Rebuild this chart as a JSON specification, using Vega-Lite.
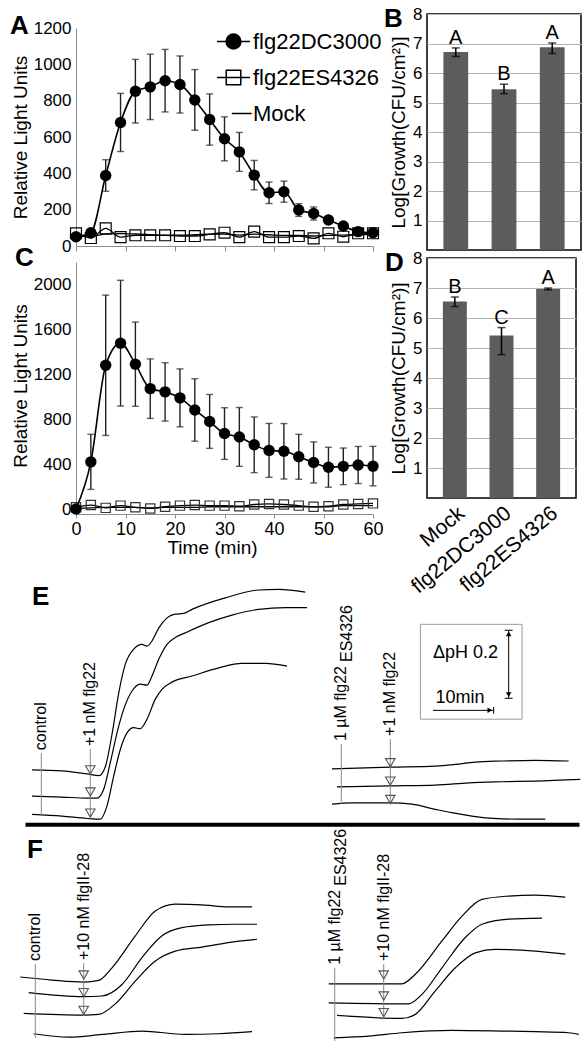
{
"$schema": "https://vega.github.io/schema/vega-lite/v6.json",
"background": "white",
"padding": {"left": 10, "top": 4, "right": 5, "bottom": 5},
"config": {
 "font": "Liberation Sans",
 "view": {"stroke": null},
 "axis": {"labelFont": "Liberation Sans", "titleFont": "Liberation Sans", "labelColor": "black", "titleColor": "black", "labelFontSize": 17, "titleFontSize": 19, "titleFontWeight": "normal", "domainColor": "#8c8c8c", "tickColor": "#8c8c8c", "labelFlush": false, "grid": false, "labelOverlap": false},
 "title": {"anchor": "start", "frame": "group", "orient": "top", "align": "left", "baseline": "alphabetic", "offset": 0, "fontSize": 26, "fontWeight": "bold", "color": "black", "font": "Liberation Sans"},
 "text": {"font": "Liberation Sans", "color": "black"}
},
"datasets": {
 "lumA": [
  {"series":"flg22DC3000","t":0,"value":51,"err":8},{"series":"flg22DC3000","t":3,"value":73,"err":10},{"series":"flg22DC3000","t":6,"value":388,"err":87},{"series":"flg22DC3000","t":9,"value":680,"err":160},{"series":"flg22DC3000","t":12,"value":852,"err":175},{"series":"flg22DC3000","t":15,"value":876,"err":180},{"series":"flg22DC3000","t":18,"value":910,"err":172},{"series":"flg22DC3000","t":21,"value":889,"err":157},{"series":"flg22DC3000","t":24,"value":804,"err":167},{"series":"flg22DC3000","t":27,"value":696,"err":141},{"series":"flg22DC3000","t":30,"value":590,"err":121},{"series":"flg22DC3000","t":33,"value":518,"err":107},{"series":"flg22DC3000","t":36,"value":390,"err":81},{"series":"flg22DC3000","t":39,"value":293,"err":59},{"series":"flg22DC3000","t":42,"value":299,"err":58},{"series":"flg22DC3000","t":45,"value":198,"err":35},{"series":"flg22DC3000","t":48,"value":179,"err":36},{"series":"flg22DC3000","t":51,"value":143,"err":15},{"series":"flg22DC3000","t":54,"value":110,"err":10},{"series":"flg22DC3000","t":57,"value":79,"err":8},{"series":"flg22DC3000","t":60,"value":73,"err":8},
  {"series":"flg22ES4326","t":0,"value":70},{"series":"flg22ES4326","t":3,"value":44},{"series":"flg22ES4326","t":6,"value":97},{"series":"flg22ES4326","t":9,"value":49},{"series":"flg22ES4326","t":12,"value":59},{"series":"flg22ES4326","t":15,"value":59},{"series":"flg22ES4326","t":18,"value":59},{"series":"flg22ES4326","t":21,"value":55},{"series":"flg22ES4326","t":24,"value":55},{"series":"flg22ES4326","t":27,"value":64},{"series":"flg22ES4326","t":30,"value":73},{"series":"flg22ES4326","t":33,"value":49},{"series":"flg22ES4326","t":36,"value":79},{"series":"flg22ES4326","t":39,"value":49},{"series":"flg22ES4326","t":42,"value":49},{"series":"flg22ES4326","t":45,"value":55},{"series":"flg22ES4326","t":48,"value":42},{"series":"flg22ES4326","t":51,"value":70},{"series":"flg22ES4326","t":54,"value":51},{"series":"flg22ES4326","t":57,"value":70},{"series":"flg22ES4326","t":60,"value":70},
  {"series":"Mock","t":0,"value":55},{"series":"Mock","t":3,"value":55},{"series":"Mock","t":6,"value":65},{"series":"Mock","t":9,"value":68},{"series":"Mock","t":12,"value":66},{"series":"Mock","t":15,"value":63},{"series":"Mock","t":18,"value":60},{"series":"Mock","t":21,"value":60},{"series":"Mock","t":24,"value":62},{"series":"Mock","t":27,"value":65},{"series":"Mock","t":30,"value":65},{"series":"Mock","t":33,"value":60},{"series":"Mock","t":36,"value":65},{"series":"Mock","t":39,"value":62},{"series":"Mock","t":42,"value":58},{"series":"Mock","t":45,"value":58},{"series":"Mock","t":48,"value":55},{"series":"Mock","t":51,"value":58},{"series":"Mock","t":54,"value":60},{"series":"Mock","t":57,"value":62},{"series":"Mock","t":60,"value":65}
 ],
 "lumC": [
  {"series":"flg22DC3000","t":0,"value":0,"err":0},{"series":"flg22DC3000","t":3,"value":420,"err":245},{"series":"flg22DC3000","t":6,"value":1280,"err":625},{"series":"flg22DC3000","t":9,"value":1477,"err":560},{"series":"flg22DC3000","t":12,"value":1290,"err":375},{"series":"flg22DC3000","t":15,"value":1072,"err":265},{"series":"flg22DC3000","t":18,"value":1043,"err":260},{"series":"flg22DC3000","t":21,"value":990,"err":258},{"series":"flg22DC3000","t":24,"value":882,"err":278},{"series":"flg22DC3000","t":27,"value":780,"err":240},{"series":"flg22DC3000","t":30,"value":672,"err":230},{"series":"flg22DC3000","t":33,"value":642,"err":262},{"series":"flg22DC3000","t":36,"value":572,"err":248},{"series":"flg22DC3000","t":39,"value":522,"err":240},{"series":"flg22DC3000","t":42,"value":514,"err":247},{"series":"flg22DC3000","t":45,"value":465,"err":200},{"series":"flg22DC3000","t":48,"value":415,"err":183},{"series":"flg22DC3000","t":51,"value":372,"err":178},{"series":"flg22DC3000","t":54,"value":380,"err":163},{"series":"flg22DC3000","t":57,"value":392,"err":165},{"series":"flg22DC3000","t":60,"value":382,"err":176},
  {"series":"flg22ES4326","t":0,"value":15},{"series":"flg22ES4326","t":3,"value":35},{"series":"flg22ES4326","t":6,"value":10},{"series":"flg22ES4326","t":9,"value":30},{"series":"flg22ES4326","t":12,"value":15},{"series":"flg22ES4326","t":15,"value":5},{"series":"flg22ES4326","t":18,"value":20},{"series":"flg22ES4326","t":21,"value":30},{"series":"flg22ES4326","t":24,"value":35},{"series":"flg22ES4326","t":27,"value":30},{"series":"flg22ES4326","t":30,"value":30},{"series":"flg22ES4326","t":33,"value":25},{"series":"flg22ES4326","t":36,"value":40},{"series":"flg22ES4326","t":39,"value":45},{"series":"flg22ES4326","t":42,"value":40},{"series":"flg22ES4326","t":45,"value":30},{"series":"flg22ES4326","t":48,"value":20},{"series":"flg22ES4326","t":51,"value":25},{"series":"flg22ES4326","t":54,"value":40},{"series":"flg22ES4326","t":57,"value":45},{"series":"flg22ES4326","t":60,"value":50},
  {"series":"Mock","t":0,"value":5},{"series":"Mock","t":3,"value":10},{"series":"Mock","t":6,"value":15},{"series":"Mock","t":9,"value":15},{"series":"Mock","t":12,"value":15},{"series":"Mock","t":15,"value":10},{"series":"Mock","t":18,"value":15},{"series":"Mock","t":21,"value":15},{"series":"Mock","t":24,"value":15},{"series":"Mock","t":27,"value":20},{"series":"Mock","t":30,"value":20},{"series":"Mock","t":33,"value":20},{"series":"Mock","t":36,"value":20},{"series":"Mock","t":39,"value":20},{"series":"Mock","t":42,"value":20},{"series":"Mock","t":45,"value":20},{"series":"Mock","t":48,"value":20},{"series":"Mock","t":51,"value":20},{"series":"Mock","t":54,"value":30},{"series":"Mock","t":57,"value":30},{"series":"Mock","t":60,"value":30}
 ],
 "growthB": [
  {"cond":"Mock","mean":6.71,"lo":6.56,"hi":6.85,"letter":"A"},
  {"cond":"flg22DC3000","mean":5.45,"lo":5.30,"hi":5.62,"letter":"B"},
  {"cond":"flg22ES4326","mean":6.87,"lo":6.66,"hi":7.02,"letter":"A"}
 ],
 "growthD": [
  {"cond":"Mock","mean":6.55,"lo":6.38,"hi":6.70,"letter":"B"},
  {"cond":"flg22DC3000","mean":5.42,"lo":4.78,"hi":5.68,"letter":"C"},
  {"cond":"flg22ES4326","mean":6.97,"lo":6.94,"hi":7.00,"letter":"A"}
 ],
 "ph": [
  {"panel":"E1","trace":"1","t":0.40,"pH":0.171},{"panel":"E1","trace":"1","t":5.34,"pH":0.168},{"panel":"E1","trace":"1","t":9.46,"pH":0.159},{"panel":"E1","trace":"1","t":11.43,"pH":0.154},{"panel":"E1","trace":"1","t":12.47,"pH":0.180},{"panel":"E1","trace":"1","t":13.61,"pH":0.279},{"panel":"E1","trace":"1","t":14.68,"pH":0.397},{"panel":"E1","trace":"1","t":15.77,"pH":0.482},{"panel":"E1","trace":"1","t":17.15,"pH":0.526},{"panel":"E1","trace":"1","t":18.52,"pH":0.540},{"panel":"E1","trace":"1","t":19.34,"pH":0.535},{"panel":"E1","trace":"1","t":20.16,"pH":0.550},{"panel":"E1","trace":"1","t":21.27,"pH":0.588},{"panel":"E1","trace":"1","t":22.64,"pH":0.618},{"panel":"E1","trace":"1","t":24.00,"pH":0.629},{"panel":"E1","trace":"1","t":25.39,"pH":0.631},{"panel":"E1","trace":"1","t":26.75,"pH":0.643},{"panel":"E1","trace":"1","t":32.24,"pH":0.677},{"panel":"E1","trace":"1","t":37.74,"pH":0.700},{"panel":"E1","trace":"1","t":41.04,"pH":0.702},{"panel":"E1","trace":"1","t":45.42,"pH":0.694},
  {"panel":"E1","trace":"2","t":0.40,"pH":0.094},{"panel":"E1","trace":"2","t":5.34,"pH":0.091},{"panel":"E1","trace":"2","t":9.46,"pH":0.088},{"panel":"E1","trace":"2","t":11.10,"pH":0.088},{"panel":"E1","trace":"2","t":12.21,"pH":0.114},{"panel":"E1","trace":"2","t":13.29,"pH":0.192},{"panel":"E1","trace":"2","t":14.40,"pH":0.280},{"panel":"E1","trace":"2","t":15.50,"pH":0.349},{"panel":"E1","trace":"2","t":16.87,"pH":0.403},{"panel":"E1","trace":"2","t":18.24,"pH":0.423},{"panel":"E1","trace":"2","t":19.34,"pH":0.420},{"panel":"E1","trace":"2","t":20.16,"pH":0.447},{"panel":"E1","trace":"2","t":21.27,"pH":0.496},{"panel":"E1","trace":"2","t":22.64,"pH":0.540},{"panel":"E1","trace":"2","t":24.00,"pH":0.560},{"panel":"E1","trace":"2","t":25.65,"pH":0.574},{"panel":"E1","trace":"2","t":29.51,"pH":0.604},{"panel":"E1","trace":"2","t":33.34,"pH":0.626},{"panel":"E1","trace":"2","t":37.74,"pH":0.643},{"panel":"E1","trace":"2","t":42.13,"pH":0.648},{"panel":"E1","trace":"2","t":45.70,"pH":0.648},
  {"panel":"E1","trace":"3","t":0.40,"pH":0.040},{"panel":"E1","trace":"3","t":5.34,"pH":0.035},{"panel":"E1","trace":"3","t":9.46,"pH":0.028},{"panel":"E1","trace":"3","t":11.65,"pH":0.026},{"panel":"E1","trace":"3","t":12.75,"pH":0.065},{"panel":"E1","trace":"3","t":13.86,"pH":0.153},{"panel":"E1","trace":"3","t":14.94,"pH":0.231},{"panel":"E1","trace":"3","t":16.05,"pH":0.280},{"panel":"E1","trace":"3","t":17.15,"pH":0.295},{"panel":"E1","trace":"3","t":18.24,"pH":0.292},{"panel":"E1","trace":"3","t":19.34,"pH":0.320},{"panel":"E1","trace":"3","t":20.71,"pH":0.379},{"panel":"E1","trace":"3","t":21.81,"pH":0.408},{"panel":"E1","trace":"3","t":23.46,"pH":0.429},{"panel":"E1","trace":"3","t":26.75,"pH":0.447},{"panel":"E1","trace":"3","t":31.15,"pH":0.471},{"panel":"E1","trace":"3","t":34.99,"pH":0.484},{"panel":"E1","trace":"3","t":38.83,"pH":0.484},{"panel":"E1","trace":"3","t":42.41,"pH":0.476},
  {"panel":"E2","trace":"1","t":0.40,"pH":0.174},{"panel":"E2","trace":"1","t":10.0,"pH":0.179},{"panel":"E2","trace":"1","t":17.41,"pH":0.182},{"panel":"E2","trace":"1","t":20.71,"pH":0.187},{"panel":"E2","trace":"1","t":24.00,"pH":0.194},{"panel":"E2","trace":"1","t":28.40,"pH":0.197},{"panel":"E2","trace":"1","t":33.89,"pH":0.199},{"panel":"E2","trace":"1","t":39.39,"pH":0.197},
  {"panel":"E2","trace":"2","t":1.22,"pH":0.121},{"panel":"E2","trace":"2","t":10.0,"pH":0.124},{"panel":"E2","trace":"2","t":17.41,"pH":0.126},{"panel":"E2","trace":"2","t":22.92,"pH":0.133},{"panel":"E2","trace":"2","t":28.40,"pH":0.136},{"panel":"E2","trace":"2","t":33.89,"pH":0.138},{"panel":"E2","trace":"2","t":41.30,"pH":0.143},
  {"panel":"E2","trace":"3","t":0.40,"pH":0.070},{"panel":"E2","trace":"3","t":3.69,"pH":0.074},{"panel":"E2","trace":"3","t":10.0,"pH":0.074},{"panel":"E2","trace":"3","t":13.57,"pH":0.070},{"panel":"E2","trace":"3","t":17.41,"pH":0.055},{"panel":"E2","trace":"3","t":20.16,"pH":0.045},{"panel":"E2","trace":"3","t":25.65,"pH":0.030},{"panel":"E2","trace":"3","t":31.15,"pH":0.026},{"panel":"E2","trace":"3","t":35.54,"pH":0.026},
  {"panel":"F1","trace":"1","t":-0.44,"pH":0.203},{"panel":"F1","trace":"1","t":4.78,"pH":0.194},{"panel":"F1","trace":"1","t":10.0,"pH":0.188},{"panel":"F1","trace":"1","t":12.47,"pH":0.193},{"panel":"F1","trace":"1","t":14.66,"pH":0.230},{"panel":"F1","trace":"1","t":18.50,"pH":0.324},{"panel":"F1","trace":"1","t":21.80,"pH":0.397},{"panel":"F1","trace":"1","t":25.09,"pH":0.417},{"panel":"F1","trace":"1","t":29.49,"pH":0.415},{"panel":"F1","trace":"1","t":33.89,"pH":0.409},{"panel":"F1","trace":"1","t":37.73,"pH":0.409},
  {"panel":"F1","trace":"2","t":0.94,"pH":0.157},{"panel":"F1","trace":"2","t":10.0,"pH":0.145},{"panel":"F1","trace":"2","t":13.01,"pH":0.147},{"panel":"F1","trace":"2","t":16.31,"pH":0.181},{"panel":"F1","trace":"2","t":19.60,"pH":0.260},{"panel":"F1","trace":"2","t":22.90,"pH":0.324},{"panel":"F1","trace":"2","t":26.19,"pH":0.348},{"panel":"F1","trace":"2","t":30.59,"pH":0.356},{"panel":"F1","trace":"2","t":34.98,"pH":0.358},{"panel":"F1","trace":"2","t":38.55,"pH":0.358},
  {"panel":"F1","trace":"3","t":0.12,"pH":0.096},{"panel":"F1","trace":"3","t":10.0,"pH":0.091},{"panel":"F1","trace":"3","t":12.47,"pH":0.093},{"panel":"F1","trace":"3","t":15.21,"pH":0.124},{"panel":"F1","trace":"3","t":18.50,"pH":0.191},{"panel":"F1","trace":"3","t":21.80,"pH":0.250},{"panel":"F1","trace":"3","t":25.09,"pH":0.279},{"panel":"F1","trace":"3","t":29.49,"pH":0.291},{"panel":"F1","trace":"3","t":34.98,"pH":0.307},{"panel":"F1","trace":"3","t":38.55,"pH":0.314},
  {"panel":"F1","trace":"4","t":1.76,"pH":0.036},{"panel":"F1","trace":"4","t":7.53,"pH":0.026},{"panel":"F1","trace":"4","t":13.01,"pH":0.034},{"panel":"F1","trace":"4","t":19.60,"pH":0.044},{"panel":"F1","trace":"4","t":26.74,"pH":0.034},{"panel":"F1","trace":"4","t":32.24,"pH":0.036},{"panel":"F1","trace":"4","t":37.73,"pH":0.042},
  {"panel":"F2","trace":"1","t":0.94,"pH":0.183},{"panel":"F2","trace":"1","t":13.01,"pH":0.183},{"panel":"F2","trace":"1","t":15.21,"pH":0.211},{"panel":"F2","trace":"1","t":19.60,"pH":0.309},{"panel":"F2","trace":"1","t":22.90,"pH":0.382},{"panel":"F2","trace":"1","t":26.19,"pH":0.431},{"panel":"F2","trace":"1","t":30.59,"pH":0.441},{"panel":"F2","trace":"1","t":34.98,"pH":0.444},{"panel":"F2","trace":"1","t":39.92,"pH":0.438},
  {"panel":"F2","trace":"2","t":0.94,"pH":0.127},{"panel":"F2","trace":"2","t":14.12,"pH":0.124},{"panel":"F2","trace":"2","t":16.31,"pH":0.152},{"panel":"F2","trace":"2","t":19.60,"pH":0.230},{"panel":"F2","trace":"2","t":23.44,"pH":0.319},{"panel":"F2","trace":"2","t":26.19,"pH":0.358},{"panel":"F2","trace":"2","t":30.59,"pH":0.373},{"panel":"F2","trace":"2","t":36.08,"pH":0.376},
  {"panel":"F2","trace":"3","t":2.31,"pH":0.090},{"panel":"F2","trace":"3","t":13.01,"pH":0.081},{"panel":"F2","trace":"3","t":15.21,"pH":0.093},{"panel":"F2","trace":"3","t":18.50,"pH":0.162},{"panel":"F2","trace":"3","t":21.80,"pH":0.230},{"panel":"F2","trace":"3","t":25.09,"pH":0.274},{"panel":"F2","trace":"3","t":28.39,"pH":0.284},{"panel":"F2","trace":"3","t":34.98,"pH":0.279},{"panel":"F2","trace":"3","t":39.92,"pH":0.270},
  {"panel":"F2","trace":"4","t":1.76,"pH":0.024},{"panel":"F2","trace":"4","t":7.53,"pH":0.029},{"panel":"F2","trace":"4","t":13.01,"pH":0.039},{"panel":"F2","trace":"4","t":21.25,"pH":0.046},{"panel":"F2","trace":"4","t":29.49,"pH":0.044},{"panel":"F2","trace":"4","t":34.98,"pH":0.042},{"panel":"F2","trace":"4","t":40.48,"pH":0.039},{"panel":"F2","trace":"4","t":42.13,"pH":0.034}
 ],
 "markers": [
  {"panel":"E1","t":1.93,"pH":0.22,"pH2":0.038,"label":"control"},
  {"panel":"E1","t":10,"pH":0.232,"pH2":0.026,"label":"+1 nM flg22"},
  {"panel":"E2","t":1.93,"pH":0.247,"pH2":0.071,"label":"1 µM flg22","sub":"ES4326"},
  {"panel":"E2","t":10,"pH":0.262,"pH2":0.071,"label":"+1 nM flg22"},
  {"panel":"F1","t":2.03,"pH":0.241,"pH2":0.0235,"label":"control"},
  {"panel":"F1","t":10,"pH":0.244,"pH2":0.088,"label":"+10 nM flgII-28"},
  {"panel":"F2","t":1.93,"pH":0.23,"pH2":0.0147,"label":"1 µM flg22","sub":"ES4326"},
  {"panel":"F2","t":10,"pH":0.241,"pH2":0.0785,"label":"+10 nM flgII-28"}
 ],
 "tri": [
  {"panel":"E1","t":10,"pH":0.171},{"panel":"E1","t":10,"pH":0.106},{"panel":"E1","t":10,"pH":0.044},
  {"panel":"E2","t":10,"pH":0.192},{"panel":"E2","t":10,"pH":0.138},{"panel":"E2","t":10,"pH":0.084},
  {"panel":"F1","t":10,"pH":0.209},{"panel":"F1","t":10,"pH":0.157},{"panel":"F1","t":10,"pH":0.105},
  {"panel":"F2","t":10,"pH":0.209},{"panel":"F2","t":10,"pH":0.147},{"panel":"F2","t":10,"pH":0.098}
 ]
},
"columns": 2,
"bounds": "flush",
"spacing": {"row": 8, "column": 10},
"concat": [
  {"width": 341, "height": 232,
   "title": {"text": "A", "dx": -66, "dy": 29},
   "data": {"name": "lumA"},
   "encoding": {
    "x": {"field": "t", "type": "quantitative", "scale": {"domain": [0, 60], "range": [0, 297], "nice": false}, "axis": {"values": [0,10,20,30,40,50,60], "labels": false, "tickSize": 5, "title": null}},
    "y": {"field": "value", "type": "quantitative", "scale": {"domain": [0, 1200], "range": [232, 14], "nice": false}, "axis": {"values": [0,200,400,600,800,1000,1200], "tickCount": 10, "format": "d", "ticks": false, "labelPadding": 5, "labelOverlap": false, "title": "Relative Light Units", "titlePadding": 3}}
   },
   "layer": [
    {"transform": [{"filter": "datum.series === 'Mock'"}], "mark": {"type": "line", "color": "black", "strokeWidth": 1.3, "interpolate": "monotone"}},
    {"transform": [{"filter": "datum.series === 'flg22ES4326'"}], "mark": {"type": "line", "color": "black", "strokeWidth": 1.3, "interpolate": "monotone"}},
    {"transform": [{"filter": "datum.series === 'flg22ES4326'"}], "mark": {"type": "point", "shape": "square", "filled": false, "color": "black", "strokeWidth": 1.2, "size": 120, "opacity": 1}},
    {"transform": [{"filter": "datum.series === 'flg22DC3000'"}], "mark": {"type": "errorbar", "ticks": {"size": 7}, "color": "#222222", "thickness": 1.4}, "encoding": {"yError": {"field": "err"}}},
    {"transform": [{"filter": "datum.series === 'flg22DC3000'"}], "mark": {"type": "line", "color": "black", "strokeWidth": 1.6, "interpolate": "monotone"}},
    {"transform": [{"filter": "datum.series === 'flg22DC3000'"}], "mark": {"type": "point", "shape": "circle", "filled": true, "color": "black", "size": 130, "opacity": 1}},
    {"mark": {"type": "point", "filled": false, "opacity": 0},
     "encoding": {
      "shape": {"field": "series", "type": "nominal", "scale": {"domain": ["flg22DC3000", "flg22ES4326", "Mock"], "range": ["M-1,0L-0.45,0M0.45,0L1,0M-0.45,0A0.45,0.45,0,1,0,0.45,0A0.45,0.45,0,1,0,-0.45,0Z", "M-1,0L1,0M-0.44,-0.44L0.44,-0.44L0.44,0.44L-0.44,0.44Z", "M-0.1,0L1.1,0"]},
        "legend": {"title": null, "orient": "none", "legendX": 140, "legendY": 10, "labelFontSize": 22, "labelFont": "Liberation Sans", "labelColor": "black", "symbolSize": 1089, "symbolStrokeWidth": 1.5, "symbolStrokeColor": "black", "symbolOpacity": 1, "rowPadding": 7, "labelOffset": 2, "padding": 0}},
      "fill": {"field": "series", "type": "nominal", "scale": {"domain": ["flg22DC3000", "flg22ES4326", "Mock"], "range": ["black", "white", "black"]},
        "legend": {"title": null, "orient": "none", "legendX": 140, "legendY": 10, "labelFontSize": 22, "labelFont": "Liberation Sans", "labelColor": "black", "symbolSize": 1089, "symbolStrokeWidth": 1.5, "symbolStrokeColor": "black", "symbolOpacity": 1, "rowPadding": 7, "labelOffset": 2, "padding": 0}},
      "stroke": {"field": "series", "type": "nominal", "scale": {"domain": ["flg22DC3000", "flg22ES4326", "Mock"], "range": ["black", "black", "black"]},
        "legend": {"title": null, "orient": "none", "legendX": 140, "legendY": 10, "labelFontSize": 22, "labelFont": "Liberation Sans", "labelColor": "black", "symbolSize": 1089, "symbolStrokeWidth": 1.5, "symbolStrokeColor": "black", "symbolOpacity": 1, "rowPadding": 7, "labelOffset": 2, "padding": 0}}
     }}
   ]
  },
  {"width": 154, "height": 236,
   "view": {"stroke": "black", "strokeWidth": 1.5},
   "title": {"text": "B", "dx": -43, "dy": 31},
   "data": {"name": "growthB"},
   "encoding": {"x": {"field": "cond", "type": "nominal", "sort": null, "scale": {"paddingInner": 0.486, "paddingOuter": 0.34}, "axis": null}},
   "layer": [
    {"mark": {"type": "bar", "color": "#5c5c5c"}, "encoding": {"y": {"field": "mean", "type": "quantitative", "title": "Log[Growth(CFU/cm²)]", "scale": {"domain": [0, 8], "nice": false}, "axis": {"values": [1,2,3,4,5,6,7,8], "tickCount": 10, "grid": true, "gridColor": "#b2b2b2", "domain": false, "ticks": false, "labelPadding": 5, "labelOverlap": false, "titlePadding": 4}}}},
    {"mark": {"type": "errorbar", "ticks": {"size": 8}, "color": "black", "thickness": 1.5}, "encoding": {"y": {"field": "lo", "type": "quantitative", "title": "Log[Growth(CFU/cm²)]"}, "y2": {"field": "hi"}}},
    {"mark": {"type": "text", "baseline": "alphabetic", "dy": -4, "fontSize": 20}, "encoding": {"y": {"field": "hi", "type": "quantitative", "title": "Log[Growth(CFU/cm²)]"}, "text": {"field": "letter"}}}
   ]
  },
  {"width": 340, "height": 256,
   "title": {"text": "C", "dx": -61, "dy": 17},
   "data": {"name": "lumC"},
   "encoding": {
    "x": {"field": "t", "type": "quantitative", "scale": {"domain": [0, 60], "range": [0, 297], "nice": false}, "axis": {"values": [0,10,20,30,40,50,60], "tickCount": 10, "tickSize": 4, "labelPadding": 2, "labelFontSize": 18, "title": "Time (min)", "titlePadding": 0, "titleX": 136}},
    "y": {"field": "value", "type": "quantitative", "scale": {"domain": [0, 2200], "range": [251, 4], "nice": false}, "axis": {"values": [0,400,800,1200,1600,2000], "tickCount": 10, "format": "d", "ticks": false, "labelPadding": 5, "labelOverlap": false, "title": "Relative Light Units", "titlePadding": 3}}
   },
   "layer": [
    {"transform": [{"filter": "datum.series === 'Mock'"}], "mark": {"type": "line", "color": "black", "strokeWidth": 1.3, "interpolate": "monotone"}},
    {"transform": [{"filter": "datum.series === 'flg22ES4326'"}], "mark": {"type": "line", "color": "black", "strokeWidth": 1.3, "interpolate": "monotone"}},
    {"transform": [{"filter": "datum.series === 'flg22ES4326'"}], "mark": {"type": "point", "shape": "square", "filled": false, "color": "#333333", "strokeWidth": 1.2, "size": 85, "opacity": 1}},
    {"transform": [{"filter": "datum.series === 'flg22DC3000'"}], "mark": {"type": "errorbar", "ticks": {"size": 7}, "color": "#222222", "thickness": 1.4}, "encoding": {"yError": {"field": "err"}}},
    {"transform": [{"filter": "datum.series === 'flg22DC3000'"}], "mark": {"type": "line", "color": "black", "strokeWidth": 1.6, "interpolate": "monotone"}},
    {"transform": [{"filter": "datum.series === 'flg22DC3000'"}], "mark": {"type": "point", "shape": "circle", "filled": true, "color": "black", "size": 130, "opacity": 1}}
   ]
  },
  {"width": 149, "height": 240,
   "view": {"stroke": "black", "strokeWidth": 1.5},
   "title": {"text": "D", "dx": -42, "dy": 31},
   "data": {"name": "growthD"},
   "encoding": {"x": {"field": "cond", "type": "nominal", "sort": null, "scale": {"paddingInner": 0.486, "paddingOuter": 0.34}, "axis": {"title": null, "domain": false, "ticks": false, "labelAngle": -40, "labelAlign": "right", "labelBaseline": "top", "labelFontSize": 21, "labelPadding": 4}}},
   "layer": [
    {"mark": {"type": "bar", "color": "#5c5c5c"}, "encoding": {"y": {"field": "mean", "type": "quantitative", "title": "Log[Growth(CFU/cm²)]", "scale": {"domain": [0, 8], "nice": false}, "axis": {"values": [1,2,3,4,5,6,7,8], "tickCount": 10, "grid": true, "gridColor": "#b2b2b2", "domain": false, "ticks": false, "labelPadding": 5, "labelOverlap": false, "titlePadding": 4}}}},
    {"mark": {"type": "errorbar", "ticks": {"size": 8}, "color": "black", "thickness": 1.5}, "encoding": {"y": {"field": "lo", "type": "quantitative", "title": "Log[Growth(CFU/cm²)]"}, "y2": {"field": "hi"}}},
    {"mark": {"type": "text", "baseline": "alphabetic", "dy": -4, "fontSize": 20}, "encoding": {"y": {"field": "hi", "type": "quantitative", "title": "Log[Growth(CFU/cm²)]"}, "text": {"field": "letter"}}}
   ]
  },
  {"width": 236, "height": 306,
   "title": {"text": "E", "dx": -44, "dy": 92},
   "encoding": {
    "x": {"field": "t", "type": "quantitative", "scale": {"domain": [-0.758, 90.51], "range": [-51, 503], "nice": false, "zero": false}, "axis": {"orient": "bottom", "domain": true, "domainColor": "black", "domainWidth": 4, "ticks": false, "labels": false, "grid": false, "title": null, "offset": -3.7}},
    "y": {"field": "pH", "type": "quantitative", "scale": {"domain": [0, 0.9], "nice": false, "zero": false}, "axis": null}
   },
   "layer": [
    {"data": {"name": "ph"}, "transform": [{"filter": "datum.panel === 'E1'"}], "mark": {"type": "line", "color": "black", "strokeWidth": 1.2, "interpolate": "monotone"}, "encoding": {"detail": {"field": "trace"}, "order": {"field": "t"}}},
    {"data": {"name": "markers"}, "transform": [{"filter": "datum.panel === 'E1'"}], "mark": {"type": "rule", "color": "#8a8a8a", "strokeWidth": 1}, "encoding": {"y2": {"field": "pH2"}}},
    {"data": {"name": "markers"}, "transform": [{"filter": "datum.panel === 'E1'"}], "mark": {"type": "text", "angle": 270, "align": "left", "baseline": "middle", "dx": 3, "fontSize": 16}, "encoding": {"text": {"field": "label"}}},
    {"data": {"name": "tri"}, "transform": [{"filter": "datum.panel === 'E1'"}], "mark": {"type": "point", "shape": "triangle-down", "filled": false, "color": "#555555", "strokeWidth": 1.1, "size": 90, "opacity": 1}}
   ]
  },
  {"width": 155, "height": 306,
   "layer": [
    {"encoding": {
      "x": {"field": "t", "type": "quantitative", "scale": {"domain": [16.046, 41.58], "nice": false, "zero": false}, "axis": null},
      "y": {"field": "pH", "type": "quantitative", "scale": {"domain": [0, 0.9], "nice": false, "zero": false}, "axis": null}
     },
     "layer": [
      {"data": {"name": "ph"}, "transform": [{"filter": "datum.panel === 'E2'"}], "mark": {"type": "line", "color": "black", "strokeWidth": 1.2, "interpolate": "monotone"}, "encoding": {"detail": {"field": "trace"}, "order": {"field": "t"}}},
      {"data": {"name": "markers"}, "transform": [{"filter": "datum.panel === 'E2'"}], "mark": {"type": "rule", "color": "#8a8a8a", "strokeWidth": 1}, "encoding": {"y2": {"field": "pH2"}}},
      {"data": {"name": "markers"}, "transform": [{"filter": "datum.panel === 'E2'"}], "mark": {"type": "text", "angle": 270, "align": "left", "baseline": "middle", "dx": 3, "fontSize": 16}, "encoding": {"text": {"field": "label"}}},
      {"data": {"name": "markers"}, "transform": [{"filter": "datum.panel === 'E2' && datum.sub"}], "mark": {"type": "text", "angle": 270, "align": "left", "baseline": "middle", "dx": 82, "dy": 6, "fontSize": 16}, "encoding": {"text": {"field": "sub"}}},
      {"data": {"name": "tri"}, "transform": [{"filter": "datum.panel === 'E2'"}], "mark": {"type": "point", "shape": "triangle-down", "filled": false, "color": "#555555", "strokeWidth": 1.1, "size": 90, "opacity": 1}}
     ]},
    {"data": {"values": [{"k": 1}]},
     "layer": [
      {"mark": {"type": "rect", "fill": "transparent", "stroke": "#9a9a9a", "strokeWidth": 1}, "encoding": {"x": {"datum": 14.96, "type": "quantitative", "scale": {"domain": [16.046, 41.58], "nice": false, "zero": false}, "axis": null}, "x2": {"datum": 31.71}, "y": {"datum": 0.32, "type": "quantitative", "scale": {"domain": [0, 0.9], "nice": false, "zero": false}, "axis": null}, "y2": {"datum": 0.599}}},
      {"mark": {"type": "rule", "color": "black", "strokeWidth": 1}, "encoding": {"x": {"datum": 29.5, "type": "quantitative", "axis": null}, "y": {"datum": 0.3815, "type": "quantitative", "axis": null}, "y2": {"datum": 0.5815}}},
      {"mark": {"type": "rule", "color": "black", "strokeWidth": 1}, "encoding": {"x": {"datum": 28.85, "type": "quantitative", "axis": null}, "x2": {"datum": 30.15}, "y": {"datum": 0.5815, "type": "quantitative", "axis": null}}},
      {"mark": {"type": "rule", "color": "black", "strokeWidth": 1}, "encoding": {"x": {"datum": 28.85, "type": "quantitative", "axis": null}, "x2": {"datum": 30.15}, "y": {"datum": 0.3815, "type": "quantitative", "axis": null}}},
      {"mark": {"type": "point", "shape": "triangle-up", "filled": true, "color": "black", "size": 30, "opacity": 1}, "encoding": {"x": {"datum": 29.5, "type": "quantitative", "axis": null}, "y": {"datum": 0.571, "type": "quantitative", "axis": null}}},
      {"mark": {"type": "point", "shape": "triangle-down", "filled": true, "color": "black", "size": 30, "opacity": 1}, "encoding": {"x": {"datum": 29.5, "type": "quantitative", "axis": null}, "y": {"datum": 0.392, "type": "quantitative", "axis": null}}},
      {"mark": {"type": "rule", "color": "black", "strokeWidth": 1}, "encoding": {"x": {"datum": 17.03, "type": "quantitative", "axis": null}, "x2": {"datum": 27.03}, "y": {"datum": 0.346, "type": "quantitative", "axis": null}}},
      {"mark": {"type": "rule", "color": "black", "strokeWidth": 1}, "encoding": {"x": {"datum": 27.03, "type": "quantitative", "axis": null}, "y": {"datum": 0.336, "type": "quantitative", "axis": null}, "y2": {"datum": 0.356}}},
      {"mark": {"type": "point", "shape": "triangle-right", "filled": true, "color": "black", "size": 30, "opacity": 1}, "encoding": {"x": {"datum": 26.4, "type": "quantitative", "axis": null}, "y": {"datum": 0.346, "type": "quantitative", "axis": null}}},
      {"mark": {"type": "text", "text": "ΔpH 0.2", "fontSize": 18, "align": "center", "baseline": "middle"}, "encoding": {"x": {"datum": 22.4, "type": "quantitative", "axis": null}, "y": {"datum": 0.516, "type": "quantitative", "axis": null}}},
      {"mark": {"type": "text", "text": "10min", "fontSize": 18, "align": "center", "baseline": "middle"}, "encoding": {"x": {"datum": 21.5, "type": "quantitative", "axis": null}, "y": {"datum": 0.383, "type": "quantitative", "axis": null}}}
     ]}
   ]
  },
  {"width": 236, "height": 210,
   "title": {"text": "F", "dx": -49, "dy": 31},
   "encoding": {
    "x": {"field": "t", "type": "quantitative", "scale": {"domain": [8.731, 47.61], "nice": false, "zero": false}, "axis": null},
    "y": {"field": "pH", "type": "quantitative", "scale": {"domain": [0, 0.6176], "nice": false, "zero": false}, "axis": null}
   },
   "layer": [
    {"data": {"name": "ph"}, "transform": [{"filter": "datum.panel === 'F1'"}], "mark": {"type": "line", "color": "black", "strokeWidth": 1.2, "interpolate": "monotone"}, "encoding": {"detail": {"field": "trace"}, "order": {"field": "t"}}},
    {"data": {"name": "markers"}, "transform": [{"filter": "datum.panel === 'F1'"}], "mark": {"type": "rule", "color": "#8a8a8a", "strokeWidth": 1}, "encoding": {"y2": {"field": "pH2"}}},
    {"data": {"name": "markers"}, "transform": [{"filter": "datum.panel === 'F1'"}], "mark": {"type": "text", "angle": 270, "align": "left", "baseline": "middle", "dx": 3, "fontSize": 16}, "encoding": {"text": {"field": "label"}}},
    {"data": {"name": "tri"}, "transform": [{"filter": "datum.panel === 'F1'"}], "mark": {"type": "point", "shape": "triangle-down", "filled": false, "color": "#555555", "strokeWidth": 1.1, "size": 90, "opacity": 1}}
   ]
  },
  {"width": 155, "height": 210,
   "encoding": {
    "x": {"field": "t", "type": "quantitative", "scale": {"domain": [17.133, 42.67], "nice": false, "zero": false}, "axis": null},
    "y": {"field": "pH", "type": "quantitative", "scale": {"domain": [0, 0.6176], "nice": false, "zero": false}, "axis": null}
   },
   "layer": [
    {"data": {"name": "ph"}, "transform": [{"filter": "datum.panel === 'F2'"}], "mark": {"type": "line", "color": "black", "strokeWidth": 1.2, "interpolate": "monotone"}, "encoding": {"detail": {"field": "trace"}, "order": {"field": "t"}}},
    {"data": {"name": "markers"}, "transform": [{"filter": "datum.panel === 'F2'"}], "mark": {"type": "rule", "color": "#8a8a8a", "strokeWidth": 1}, "encoding": {"y2": {"field": "pH2"}}},
    {"data": {"name": "markers"}, "transform": [{"filter": "datum.panel === 'F2'"}], "mark": {"type": "text", "angle": 270, "align": "left", "baseline": "middle", "dx": 3, "fontSize": 16}, "encoding": {"text": {"field": "label"}}},
    {"data": {"name": "markers"}, "transform": [{"filter": "datum.panel === 'F2' && datum.sub"}], "mark": {"type": "text", "angle": 270, "align": "left", "baseline": "middle", "dx": 82, "dy": 6, "fontSize": 16}, "encoding": {"text": {"field": "sub"}}},
    {"data": {"name": "tri"}, "transform": [{"filter": "datum.panel === 'F2'"}], "mark": {"type": "point", "shape": "triangle-down", "filled": false, "color": "#555555", "strokeWidth": 1.1, "size": 90, "opacity": 1}}
   ]
  }
]
}
